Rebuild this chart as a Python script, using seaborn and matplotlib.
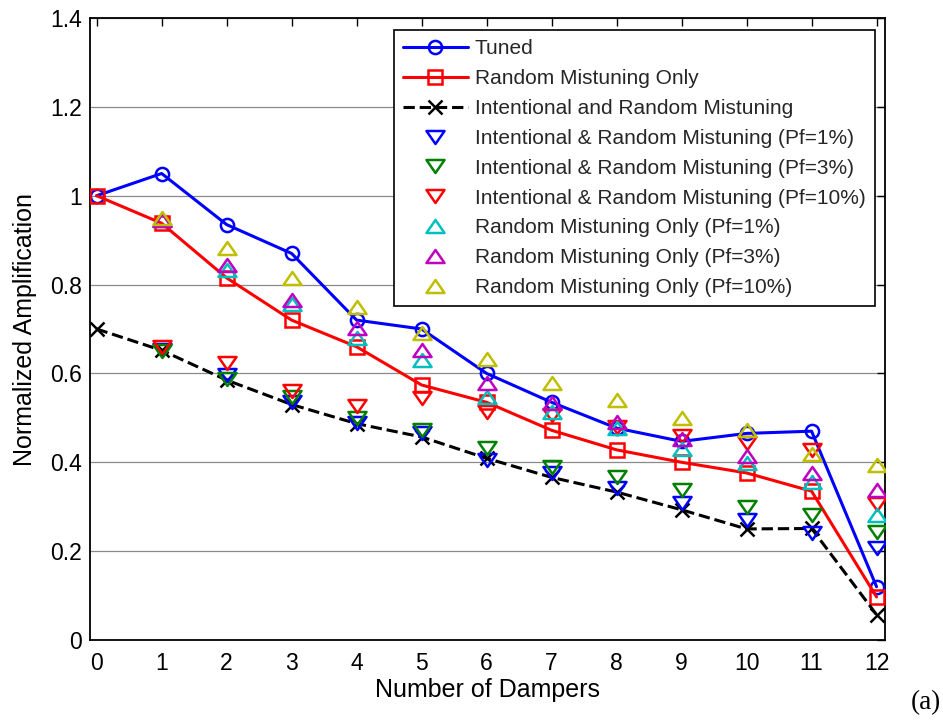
import numpy as np
import pandas as pd
import seaborn as sns
import matplotlib
matplotlib.use("Agg")
import matplotlib.pyplot as plt
from matplotlib.path import Path

# Damper counts
dampers = [0, 1, 2, 3, 4, 5, 6, 7, 8, 9, 10, 11, 12]
dampers_pf = [1, 2, 3, 4, 5, 6, 7, 8, 9, 10, 11, 12]

# Normalized amplification, deterministic cases
tuned = [1.0, 1.05, 0.935, 0.87, 0.72, 0.70, 0.60, 0.535, 0.477, 0.447, 0.465, 0.47, 0.12]
random_only = [1.0, 0.938, 0.815, 0.72, 0.66, 0.574, 0.535, 0.472, 0.428, 0.40, 0.376, 0.335, 0.097]
intentional_random = [0.70, 0.652, 0.585, 0.53, 0.487, 0.457, 0.409, 0.366, 0.333, 0.293, 0.25, 0.251, 0.057]

# Amplification at given probability of exceedance
ir_pf1 = [0.652, 0.596, 0.536, 0.489, 0.466, 0.405, 0.376, 0.343, 0.308, 0.27, 0.24, 0.207]
ir_pf3 = [0.650, 0.587, 0.547, 0.499, 0.472, 0.432, 0.39, 0.367, 0.337, 0.30, 0.281, 0.244]
ir_pf10 = [0.66, 0.623, 0.561, 0.526, 0.544, 0.514, 0.506, 0.479, 0.459, 0.443, 0.427, 0.306]
ro_pf1 = [0.945, 0.832, 0.756, 0.68, 0.63, 0.547, 0.514, 0.478, 0.43, 0.398, 0.356, 0.281]
ro_pf3 = [0.945, 0.844, 0.765, 0.702, 0.652, 0.578, 0.534, 0.491, 0.452, 0.414, 0.376, 0.337]
ro_pf10 = [0.95, 0.882, 0.815, 0.749, 0.69, 0.632, 0.578, 0.54, 0.50, 0.472, 0.418, 0.394]

labels_line = ["Tuned", "Random Mistuning Only", "Intentional and Random Mistuning"]
labels_pf = [
    "Intentional & Random Mistuning (Pf=1%)",
    "Intentional & Random Mistuning (Pf=3%)",
    "Intentional & Random Mistuning (Pf=10%)",
    "Random Mistuning Only (Pf=1%)",
    "Random Mistuning Only (Pf=3%)",
    "Random Mistuning Only (Pf=10%)",
]
xticks = list(range(0, 13))
yticks = [0, 0.2, 0.4, 0.6, 0.8, 1.0, 1.2, 1.4]
ytick_labels = ["0", "0.2", "0.4", "0.6", "0.8", "1", "1.2", "1.4"]

sns.set_theme(style="white")
plt.rcParams["font.family"] = ["Liberation Sans", "DejaVu Sans"]

fig = plt.figure(figsize=(9.43, 7.21), dpi=100)
ax = fig.add_axes([89.5 / 943, 81 / 721, (885 - 89.5) / 943, (640 - 18) / 721])

# wide, flat triangles
tri_down = Path([(-1, 0.72), (1, 0.72), (0, -0.72), (-1, 0.72)],
                [Path.MOVETO, Path.LINETO, Path.LINETO, Path.CLOSEPOLY])
tri_up = Path([(-1, -0.72), (1, -0.72), (0, 0.72), (-1, -0.72)],
              [Path.MOVETO, Path.LINETO, Path.LINETO, Path.CLOSEPOLY])

blue, red, black = (0, 0, 1), (1, 0, 0), (0, 0, 0)
green, cyan, magenta, yellow = (0, 0.5, 0), (0, 0.75, 0.75), (0.75, 0, 0.75), (0.75, 0.75, 0)

line_specs = [
    (tuned, labels_line[0], blue, "o", "-"),
    (random_only, labels_line[1], red, "s", "-"),
    (intentional_random, labels_line[2], black, "x", "--"),
]
for vals, lab, col, mk, ls in line_specs:
    df = pd.DataFrame({"x": dampers, "y": vals})
    sns.lineplot(data=df, x="x", y="y", ax=ax, errorbar=None, label=lab,
                 color=col, linestyle=ls, linewidth=2.2, marker=mk,
                 markersize=9.5, markerfacecolor="none",
                 markeredgecolor=col, markeredgewidth=1.8, zorder=3)

pf_specs = [
    (ir_pf1, labels_pf[0], blue, tri_down),
    (ir_pf3, labels_pf[1], green, tri_down),
    (ir_pf10, labels_pf[2], red, tri_down),
    (ro_pf1, labels_pf[3], cyan, tri_up),
    (ro_pf3, labels_pf[4], magenta, tri_up),
    (ro_pf10, labels_pf[5], yellow, tri_up),
]
for vals, lab, col, mk in pf_specs:
    df = pd.DataFrame({"x": dampers_pf, "y": vals})
    sns.lineplot(data=df, x="x", y="y", ax=ax, errorbar=None, label=lab,
                 color=col, linestyle="none", marker=mk, markersize=13,
                 markerfacecolor="none", markeredgecolor=col,
                 markeredgewidth=1.8, zorder=4)

ax.set_xlim(-0.11, 12.13)
ax.set_ylim(0, 1.4)
ax.set_xticks(xticks)
ax.set_xticklabels([str(t) for t in xticks])
ax.set_yticks(yticks)
ax.set_yticklabels(ytick_labels)
ax.tick_params(direction="in", top=True, right=True, length=6, width=1,
               color="black", labelsize=16.5, labelcolor="black")
ax.tick_params(axis="y", pad=5.5)
ax.tick_params(axis="x", pad=9)
ax.yaxis.grid(True, color="#8a8a8a", linewidth=0.9)
ax.xaxis.grid(False)
ax.set_axisbelow(True)
for sp in ax.spines.values():
    sp.set_color("black")
    sp.set_linewidth(1.3)

ax.set_xlabel("Number of Dampers", fontsize=18, color="black", labelpad=2)
ax.set_ylabel("Normalized Amplification", fontsize=18, color="black", labelpad=9)

handles, labels = ax.get_legend_handles_labels()
leg = ax.legend(handles, labels, loc="upper right",
                bbox_to_anchor=(0.9874, 0.9807), borderaxespad=0,
                fontsize=15, frameon=True, fancybox=False, edgecolor="black",
                framealpha=1, handlelength=3.1, handletextpad=0.34,
                labelspacing=0.52, numpoints=1, borderpad=0.45)
leg.get_frame().set_linewidth(1.2)

fig.text(0.998, 0.008, "(a)", ha="right", va="bottom", fontsize=19.5,
         family=["Liberation Serif", "DejaVu Serif"], color="black")

fig.savefig("out.png", dpi=100)
